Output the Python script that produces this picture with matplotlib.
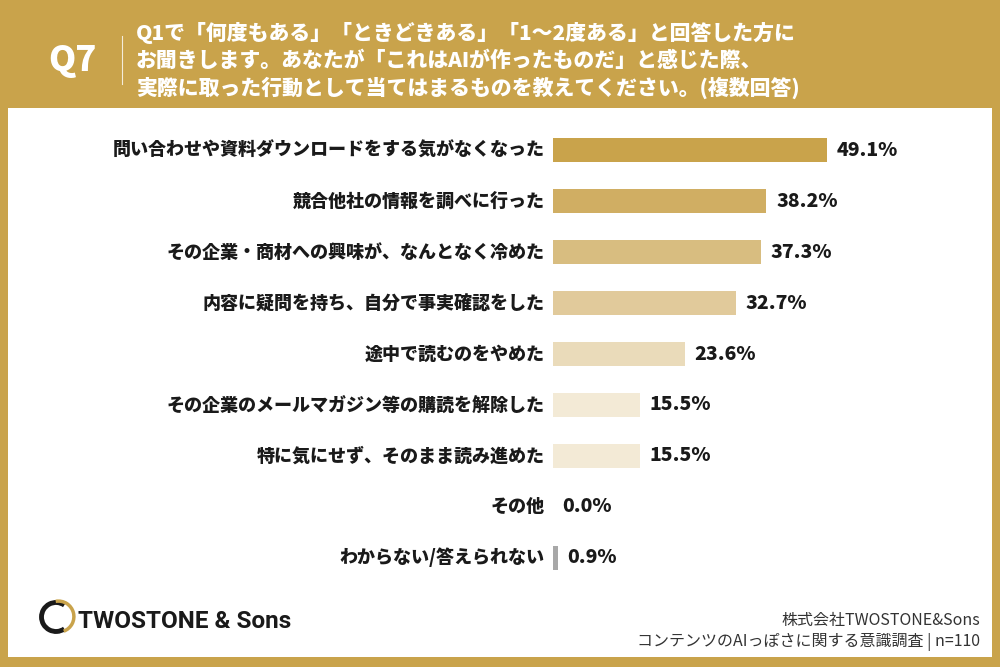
import matplotlib
matplotlib.use("Agg")
import matplotlib.pyplot as plt
from matplotlib.patches import Rectangle, Arc

plt.rcParams["font.family"] = ["Noto Sans CJK JP", "DejaVu Sans"]

GOLD = "#C9A34B"
INK = "#1A1A1A"

categories = [
    "問い合わせや資料ダウンロードをする気がなくなった",
    "競合他社の情報を調べに行った",
    "その企業・商材への興味が、なんとなく冷めた",
    "内容に疑問を持ち、自分で事実確認をした",
    "途中で読むのをやめた",
    "その企業のメールマガジン等の購読を解除した",
    "特に気にせず、そのまま読み進めた",
    "その他",
    "わからない/答えられない",
]
values = [49.1, 38.2, 37.3, 32.7, 23.6, 15.5, 15.5, 0.0, 0.9]
bar_colors = ["#C9A34B", "#D0AE63", "#D8BD80", "#E1CA9B", "#EADBBA",
              "#F3EAD6", "#F3EAD6", "#F3EAD6", "#A8A8A8"]

fig = plt.figure(figsize=(10, 6.67), dpi=100)
fig.patch.set_facecolor(GOLD)

# white panel (behind everything)
fig.patches.append(Rectangle((0.008, 1 - 657 / 667), 0.984, (657 - 108) / 667,
                             transform=fig.transFigure, facecolor="white",
                             edgecolor="none", zorder=-10))

# header
fig.text(0.072, 1 - 60 / 667, "Q7", color="white", fontsize=25, fontweight="heavy",
         ha="center", va="center")
fig.lines.append(plt.Line2D([0.122, 0.122], [1 - 36 / 667, 1 - 84 / 667],
                            transform=fig.transFigure, color="white", lw=0.8, alpha=0.8))
title_lines = [
    "Q1で「何度もある」「ときどきある」「1～2度ある」と回答した方に",
    "お聞きします。あなたが「これはAIが作ったものだ」と感じた際、",
    "実際に取った行動として当てはまるものを教えてください。(複数回答)",
]
for i, line in enumerate(title_lines):
    fig.text(0.136, 1 - (33 + 27.5 * i) / 667, line, color="white", fontsize=15,
             fontweight="heavy", ha="left", va="center")

# bar chart
ax = fig.add_axes([0.553, 1 - 583 / 667, 0.397, 458 / 667])
ax.set_facecolor("none")
y = list(range(len(categories)))
ax.barh(y, values, height=0.47, color=bar_colors, edgecolor="none")
ax.set_xlim(0, 71.1)
ax.set_ylim(8.5, -0.5)
ax.axis("off")
for yi, (cat, v) in enumerate(zip(categories, values)):
    ax.annotate(cat, xy=(0, yi), xytext=(-6, 0), textcoords="offset points",
                ha="right", va="center", fontsize=13, fontweight="heavy", color=INK)
    ax.annotate(f"{v:.1f}%", xy=(v, yi), xytext=(7, 0), textcoords="offset points",
                ha="left", va="center", fontsize=14, fontweight="heavy", color=INK)

# logo
lax = fig.add_axes([0.036, 1 - 637 / 667, 0.04, 0.06])
lax.set_xlim(-1, 1)
lax.set_ylim(-1, 1)
lax.set_aspect("equal")
lax.axis("off")
lax.add_patch(Arc((0, 0), 1.45, 1.45, theta1=55, theta2=305, lw=3.5, color=INK))
lax.add_patch(Arc((0.12, 0.02), 1.55, 1.55, theta1=-70, theta2=100, lw=2.5, color=GOLD))
fig.text(0.078, 1 - 621 / 667, "TWOSTONE & Sons", fontsize=17.5, fontweight="bold",
         color=INK, ha="left", va="center", family=["Roboto", "DejaVu Sans"])

fig.text(0.980, 1 - 620 / 667, "株式会社TWOSTONE&Sons", fontsize=11.5, color="#333333",
         ha="right", va="center")
fig.text(0.980, 1 - 642 / 667, "コンテンツのAIっぽさに関する意識調査 | n=110", fontsize=11.5,
         color="#333333", ha="right", va="center")

fig.savefig("out.png", dpi=100, facecolor=GOLD)
